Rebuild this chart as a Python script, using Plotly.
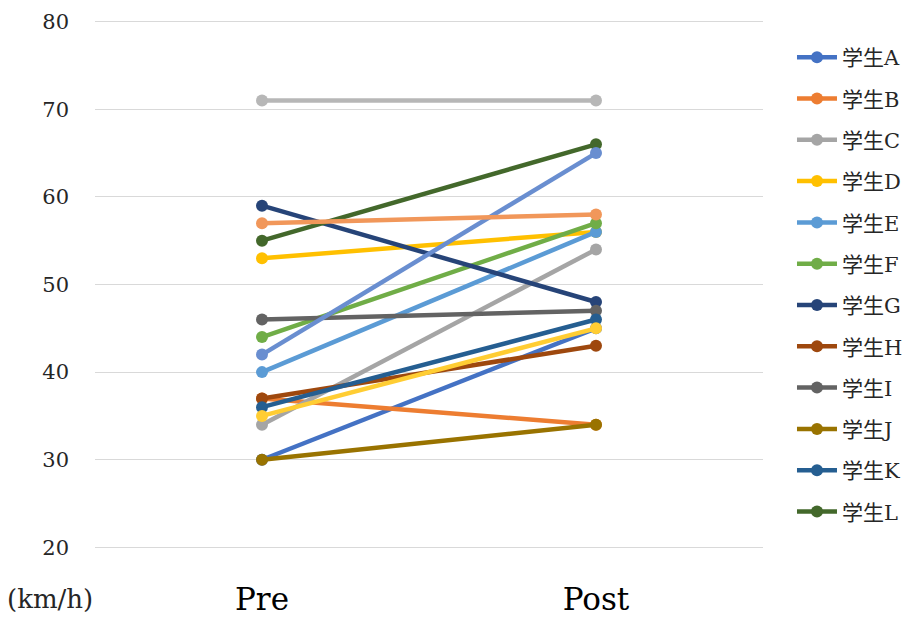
import plotly.graph_objects as go

categories = ["Pre", "Post"]
students = ["学生A", "学生B", "学生C", "学生D", "学生E", "学生F",
            "学生G", "学生H", "学生I", "学生J", "学生K", "学生L"]
pre_values = [30, 37, 34, 53, 40, 44, 59, 37, 46, 30, 36, 55]
post_values = [45, 34, 54, 56, 56, 57, 48, 43, 47, 34, 46, 66]
colors = ["#4472C4", "#ED7D31", "#A5A5A5", "#FFC000", "#5B9BD5", "#70AD47",
          "#264478", "#9E480E", "#636363", "#997300", "#255E91", "#43682B"]

# extra series present in the chart but not listed in the legend
extra_names = ["学生M", "学生N", "学生O", "学生P"]
extra_pre = [42, 57, 71, 35]
extra_post = [65, 58, 71, 45]
extra_colors = ["#698ED0", "#F1975A", "#B7B7B7", "#FFCD33"]

font_serif = "DejaVu Serif, Liberation Serif, Noto Sans CJK JP, serif"

fig = go.Figure()
for name, a, b, c in zip(students, pre_values, post_values, colors):
    fig.add_trace(go.Scatter(
        x=categories, y=[a, b], name=name, mode="lines+markers",
        line=dict(color=c, width=4.5), marker=dict(color=c, size=12),
        legendgroup=name,
    ))
for name, a, b, c in zip(extra_names, extra_pre, extra_post, extra_colors):
    fig.add_trace(go.Scatter(
        x=categories, y=[a, b], name=name, mode="lines+markers",
        line=dict(color=c, width=4.5), marker=dict(color=c, size=12),
        showlegend=False,
    ))

fig.update_layout(
    width=917, height=619,
    margin=dict(l=95, r=154, t=19, b=69, autoexpand=False),
    paper_bgcolor="white", plot_bgcolor="white",
    font=dict(family=font_serif, color="#262626"),
    legend=dict(
        x=1.0434, y=0.966, xanchor="left", yanchor="top",
        font=dict(size=21, family=font_serif, color="#262626"),
        tracegroupgap=11, itemwidth=40,
    ),
    xaxis=dict(
        type="category", range=[-0.5, 1.5], showgrid=False, zeroline=False,
        showline=False, ticks="", automargin=False,
        tickfont=dict(size=31, family=font_serif, color="#000000"),
        ticklabelstandoff=28,
    ),
    yaxis=dict(
        range=[19.7, 80.3], dtick=10, tick0=20, showgrid=True, gridcolor="#D9D9D9", gridwidth=1.3,
        zeroline=False, showline=False, ticks="", automargin=False,
        tickfont=dict(size=21, family=font_serif, color="#262626"),
        ticklabelstandoff=25,
    ),
    annotations=[dict(
        text="(km/h)", x=0, y=-0.093, xref="paper", yref="paper",
        xanchor="right", yanchor="middle", showarrow=False,
        font=dict(size=26, family=font_serif, color="#262626"),
    )],
)

fig.write_html("out.html", config={"displayModeBar": False},
               post_script="document.body.style.margin='0';")
